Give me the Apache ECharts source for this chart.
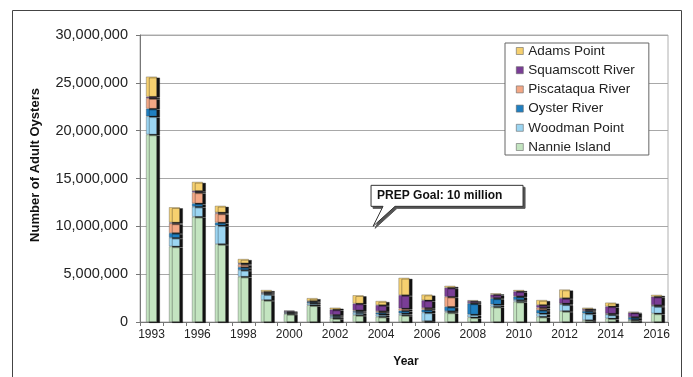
<!DOCTYPE html>
<html><head><meta charset="utf-8">
<script src="https://cdn.jsdelivr.net/npm/echarts@6/dist/echarts.min.js"></script>
<style>html,body{margin:0;padding:0;background:#fff}#c{width:693px;height:377px}</style>
</head><body><div id="c"></div>
<script>
var years = ['1993','1994','1996','1997','1998','1999','2000','2001','2002','2003','2004','2005','2006','2007','2008','2009','2010','2011','2012','2013','2014','2015','2016'];
var nannieIsland   = [19.6,7.9,11.0,8.15,4.74,2.3,0.85,1.75,0.4,0.73,0.56,0.73,0.1,1.0,0.49,1.6,2.13,0.56,1.15,0.2,0.38,0.2,0.9];
var woodmanPoint   = [1.9,0.9,1.05,1.95,0.7,0.6,0.05,0.2,0.15,0.25,0.24,0.17,0.9,0.14,0.3,0.24,0.17,0.35,0.7,0.7,0.4,0.05,0.77];
var oysterRiver    = [0.8,0.5,0.35,0.3,0.3,0.1,0.1,0.15,0.15,0.15,0.2,0.28,0.3,0.45,1.15,0.63,0.35,0.35,0.05,0.25,0.05,0.25,0.05];
var piscataquaRiver= [1.1,1.0,1.15,0.95,0.3,0.1,0.05,0.05,0.05,0.1,0.14,0.24,0.17,1.05,0.05,0.05,0.05,0.24,0.05,0.05,0.05,0.03,0.05];
var squamscottRiver= [0.15,0.1,0.15,0.1,0.1,0.05,0.1,0.05,0.55,0.7,0.63,1.39,0.8,0.94,0.2,0.35,0.5,0.28,0.55,0.15,0.75,0.45,0.87];
var adamsPoint     = [2.1,1.6,0.95,0.7,0.45,0.2,0.05,0.3,0.2,0.87,0.43,1.81,0.6,0.2,0.1,0.13,0.15,0.52,0.9,0.15,0.4,0.1,0.2];
var yTicks = [0,5000000,10000000,15000000,20000000,25000000,30000000];
var goalValue = 10000000;
var goalText = 'PREP Goal: 10 million';

var seriesDefs = [
  {name:'Nannie Island', data:nannieIsland, color:'#c3e4c0'},
  {name:'Woodman Point', data:woodmanPoint, color:'#9bd5f2'},
  {name:'Oyster River', data:oysterRiver, color:'#1f7fc1'},
  {name:'Piscataqua River', data:piscataquaRiver, color:'#f3a785'},
  {name:'Squamscott River', data:squamscottRiver, color:'#7a3d96'},
  {name:'Adams Point', data:adamsPoint, color:'#f6d06f'}
];
var FONT = '"Liberation Sans", Arial, sans-serif';
var chart = echarts.init(document.getElementById('c'), null, {renderer:'canvas'});
var series = seriesDefs.map(function(s){
  return {
    name:s.name, type:'bar', stack:'total', barWidth:11,
    data:s.data.map(function(v){return Math.round(v*1000000);}),
    itemStyle:{color:s.color, borderColor:'rgba(60,60,60,0.55)', borderWidth:0.6,
      shadowColor:'#111', shadowOffsetX:3, shadowOffsetY:1, shadowBlur:0}
  };
});
chart.setOption({
  animation:false,
  textStyle:{fontFamily:FONT},
  grid:{left:140, right:25, top:35, bottom:55, show:true, borderColor:'#b0b0b0', borderWidth:1},
  legend:{
    orient:'vertical', left:505, top:43, itemWidth:7, itemHeight:7, itemGap:5.2,
    icon:'rect', padding:[1,14,1,11],
    borderColor:'#666', borderWidth:1, backgroundColor:'#fff',
    data:['Adams Point','Squamscott River','Piscataqua River','Oyster River','Woodman Point','Nannie Island'],
    textStyle:{fontSize:13.5, lineHeight:13, color:'#222', fontFamily:FONT},
    itemStyle:{borderColor:'#666', borderWidth:0.6}
  },
  xAxis:{
    type:'category', data:years,
    axisLine:{lineStyle:{color:'#777'}},
    axisTick:{show:true, interval:0, length:4, lineStyle:{color:'#777'}},
    axisLabel:{interval:1, color:'#222', fontSize:12, margin:7, fontFamily:FONT}
  },
  yAxis:{
    type:'value', min:yTicks[0], max:yTicks[yTicks.length-1], interval:yTicks[1]-yTicks[0],
    axisLine:{show:true, lineStyle:{color:'#777'}},
    axisTick:{show:true, length:4, lineStyle:{color:'#777'}},
    splitLine:{lineStyle:{color:'#a8a8a8', width:1}},
    axisLabel:{color:'#222', fontSize:14.5, margin:12, fontFamily:FONT,
      formatter:function(v){return v.toLocaleString('en-US');}}
  },
  series:series
});
function addGraphics(){
  var p = chart.convertToPixel({gridIndex:0}, [years[10], goalValue]);
  var tipX = p[0] - 8, tipY = p[1];
  var bx = tipX - 2, by = tipY - 41, bw = 152, bh = 21;
  var poly = [[bx,by],[bx+bw,by],[bx+bw,by+bh],[bx+24,by+bh],[tipX,tipY],[bx+12,by+bh],[bx,by+bh]];
  var shadowPoly = poly.map(function(q){return [q[0]+2,q[1]+2];});
  chart.setOption({graphic:[
    {type:'polygon', shape:{points:shadowPoly}, style:{fill:'#555', stroke:'#555'}, z:100, silent:true},
    {type:'polygon', shape:{points:poly}, style:{fill:'#fff', stroke:'#333', lineWidth:1}, z:101, silent:true},
    {type:'text', left:bx+6, top:by+4, z:102, style:{text:goalText, font:'bold 12px '+FONT, fill:'#111'}},
    {type:'text', z:102, style:{text:'Number of Adult Oysters', font:'bold 13px '+FONT, fill:'#111', textAlign:'center', textVerticalAlign:'middle'}, x:35, y:165, rotation:Math.PI/2},
    {type:'text', z:102, style:{text:'Year', font:'bold 12px '+FONT, fill:'#111', textAlign:'center', textVerticalAlign:'middle'}, x:406, y:362},
    {type:'polyline', shape:{points:[[12.5,377],[12.5,10.5],[681.5,10.5],[681.5,377]]}, style:{stroke:'#444', lineWidth:1, fill:null}, z:1, silent:true}
  ]});
}
addGraphics();
</script></body></html>
